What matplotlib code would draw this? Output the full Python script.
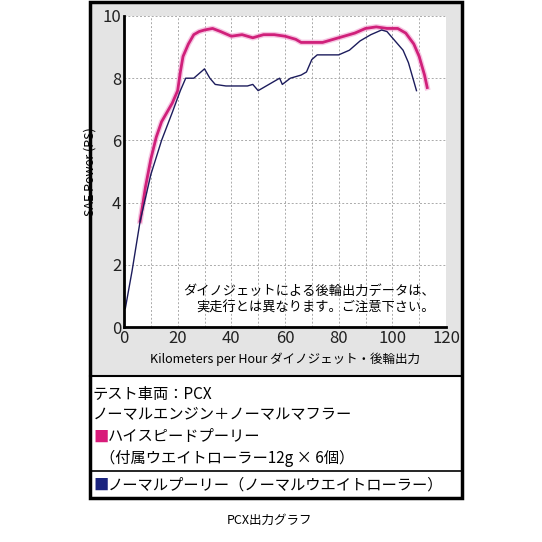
import matplotlib.pyplot as plt
from matplotlib.patches import Rectangle

plt.rcParams['font.family'] = ['Noto Sans CJK JP', 'DejaVu Sans']

# high speed pulley (pink)
hs_x = [6, 8, 10, 12, 14, 16, 18, 20, 21, 22, 24, 26, 28, 30, 33, 36, 40, 44, 48, 52,
        56, 60, 64, 66, 70, 74, 78, 82, 86, 90, 94, 98, 102, 105, 108, 110, 112, 113]
hs_y = [3.4, 4.5, 5.4, 6.1, 6.6, 6.9, 7.2, 7.6, 8.2, 8.7, 9.1, 9.4, 9.5, 9.55, 9.6, 9.5,
        9.35, 9.4, 9.3, 9.4, 9.4, 9.35, 9.25, 9.15, 9.15, 9.15, 9.25, 9.35, 9.45, 9.6,
        9.65, 9.6, 9.6, 9.45, 9.1, 8.7, 8.1, 7.7]
# normal pulley (navy)
nm_x = [0.5, 3, 6, 10, 14, 18, 21, 23, 26, 28, 30, 32, 34, 38, 42, 46, 48, 50, 52, 56,
        58, 59, 62, 66, 68, 70, 72, 76, 80, 84, 88, 92, 96, 98, 100, 104, 106, 108, 109]
nm_y = [0.6, 1.8, 3.4, 4.9, 6.0, 6.9, 7.6, 8.0, 8.0, 8.15, 8.3, 8.0, 7.8, 7.75, 7.75,
        7.75, 7.8, 7.6, 7.7, 7.9, 8.0, 7.8, 8.0, 8.1, 8.2, 8.6, 8.75, 8.75, 8.75, 8.9,
        9.2, 9.4, 9.55, 9.5, 9.3, 8.9, 8.5, 7.9, 7.6]

fig = plt.figure(figsize=(5.42, 5.42), dpi=100)
W = H = 542.0

def fx(px):
    return px / W

def fy(py):
    return 1 - py / H

# gray chart panel (behind the axes) and outer frame
fig.add_artist(Rectangle((fx(90), fy(376)), fx(372), 374 / H, transform=fig.transFigure,
                         facecolor='#e4e4e4', edgecolor='none', zorder=-10))
fig.add_artist(Rectangle((fx(90), fy(498)), fx(372), 496 / H, transform=fig.transFigure,
                         facecolor='none', edgecolor='black', lw=2.5, zorder=5))
fig.add_artist(plt.Line2D([fx(90), fx(462)], [fy(376), fy(376)], color='black', lw=1.5))
fig.add_artist(plt.Line2D([fx(90), fx(462)], [fy(471), fy(471)], color='black', lw=1.2))

ax = fig.add_axes([fx(124), fy(327), 322 / W, 311 / H])
ax.set_facecolor('white')
ax.plot(hs_x, hs_y, color='#f0a0d0', lw=4, alpha=0.6)
ax.plot(hs_x, hs_y, color='#d0207a', lw=2)
ax.plot(nm_x, nm_y, color='#1c1c5c', lw=1)
ax.set_xlim(0, 120)
ax.set_ylim(0, 10)
ax.set_xticks(range(0, 121, 20))
ax.set_yticks(range(0, 11, 2))
ax.set_xticks(range(10, 120, 20), minor=True)
ax.grid(True, which='both', color='#aaaaaa', ls=(0, (2, 2)), lw=0.7)
ax.tick_params(which='both', length=0, labelsize=12, pad=2, colors='#222222')
for s in ['top', 'right']:
    ax.spines[s].set_visible(False)
ax.spines['left'].set_linewidth(2)
ax.spines['bottom'].set_linewidth(2)
ax.set_ylabel('SAE Power (PS)', fontsize=9, labelpad=4)
ax.set_xlabel('Kilometers per Hour ダイノジェット・後輪出力', fontsize=9, labelpad=4)
ax.text(0.965, 0.04, 'ダイノジェットによる後輪出力データは、\n実走行とは異なります。ご注意下さい。',
        transform=ax.transAxes, ha='right', va='bottom', fontsize=9.5, linespacing=1.3)

fs = 11
fig.text(fx(93), fy(394), 'テスト車両：PCX', fontsize=fs, va='center')
fig.text(fx(93), fy(415), 'ノーマルエンジン＋ノーマルマフラー', fontsize=fs, va='center')
fig.text(fx(93), fy(437), '■', color='#d81b7a', fontsize=fs, va='center')
fig.text(fx(108), fy(437), 'ハイスピードプーリー', fontsize=fs, va='center')
fig.text(fx(100), fy(458), '（付属ウエイトローラー12g × 6個）', fontsize=fs, va='center')
fig.text(fx(93), fy(485), '■', color='#1a237e', fontsize=fs, va='center')
fig.text(fx(108), fy(485), 'ノーマルプーリー（ノーマルウエイトローラー）', fontsize=fs, va='center')
fig.text(fx(270), fy(520), 'PCX出力グラフ', fontsize=9, ha='center', va='center')

fig.savefig('out.png', dpi=100)
